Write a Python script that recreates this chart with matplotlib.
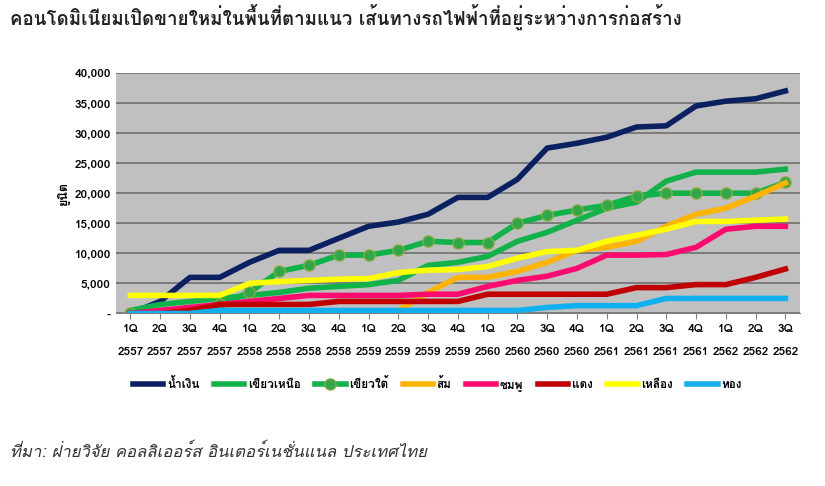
import matplotlib
matplotlib.use("Agg")
import matplotlib.pyplot as plt
from matplotlib import font_manager as fm

thai = [f.name for f in fm.fontManager.ttflist if "Thai" in f.name or "Loma" in f.name or "Garuda" in f.name]
fam = (thai[:1] if thai else []) + ["DejaVu Sans"]
plt.rcParams["font.family"] = fam

quarters = ["1Q","2Q","3Q","4Q","1Q","2Q","3Q","4Q","1Q","2Q","3Q","4Q","1Q","2Q","3Q","4Q","1Q","2Q","3Q","4Q","1Q","2Q","3Q"]
years = ["2557"]*4+["2558"]*4+["2559"]*4+["2560"]*4+["2561"]*4+["2562"]*3
labels = [q+"\n\n"+y for q, y in zip(quarters, years)]

navy = [0,2000,6000,6000,8500,10500,10500,12500,14500,15200,16500,19300,19300,22300,27500,28300,29300,31000,31200,34500,35300,35700,37000]
green_n = [500,1500,2000,2500,3000,3500,4200,4500,4800,5500,8000,8500,9500,12000,13500,15500,17500,18500,22000,23500,23500,23500,24000]
green_s = [0,0,500,1500,3500,7000,8000,9700,9700,10500,12000,11800,11800,15000,16300,17200,18000,19500,20000,20000,20000,20000,21800]
orange = [0,0,0,0,0,0,0,0,0,500,3500,6000,6000,7000,8500,10500,11000,12000,14500,16500,17500,19500,21700]
pink = [0,500,1000,1500,2000,2500,3000,3000,3000,3000,3200,3200,4500,5500,6200,7500,9700,9700,9800,11000,14000,14500,14500]
red = [0,0,500,1500,1500,1500,1500,2000,2000,2000,2000,2000,3200,3200,3200,3200,3200,4300,4300,4800,4800,6000,7400]
yellow = [3000,3000,3000,3000,5000,5300,5500,5700,5800,6800,7200,7300,7800,9200,10300,10500,12000,13000,14000,15300,15300,15500,15700]
cyan = [0,0,0,500,500,500,500,500,500,500,500,500,500,500,1000,1300,1300,1300,2500,2500,2500,2500,2500]

names = ["น้ำเงิน","เขียวเหนือ","เขียวใต้","ส้ม","ชมพู","แดง","เหลือง","ทอง"]
fig = plt.figure(figsize=(8.25,4.86), dpi=100)
ax = fig.add_axes([0.14, 0.355, 0.83, 0.495])
ax.set_facecolor("#c0c0c0")
x = list(range(len(labels)))
lw = 4
ax.plot(x, navy, color="#0b2060", lw=lw, label=names[0])
ax.plot(x, green_n, color="#12b24a", lw=lw, label=names[1])
ax.plot(x, green_s, color="#12b24a", lw=lw, marker="o", ms=8, mfc="#2ea84a", mec="#8aaa40", label=names[2])
ax.plot(x, orange, color="#ffb400", lw=lw, label=names[3])
ax.plot(x, pink, color="#ff0a6e", lw=lw, label=names[4])
ax.plot(x, red, color="#c00000", lw=lw, label=names[5])
ax.plot(x, yellow, color="#ffff00", lw=lw, label=names[6])
ax.plot(x, cyan, color="#10b0f0", lw=lw, label=names[7])
ax.set_xlim(-0.5, len(x)-0.5)
ax.set_ylim(0, 40000)
ax.set_yticks(range(0, 40001, 5000))
ax.set_yticklabels(["-"]+[f"{v:,}" for v in range(5000, 40001, 5000)], fontsize=8.5, fontweight="bold")
ax.set_xticks(x)
ax.set_xticklabels(labels, fontsize=8.5, fontweight="bold")
ax.grid(axis="y", color="#707070", lw=1.2)
ax.set_axisbelow(True)
for s in ["top","right","left"]:
    ax.spines[s].set_visible(False)
ax.spines["bottom"].set_color("#808080")
ax.tick_params(axis="y", length=0)
ax.tick_params(axis="x", length=4, color="#808080")
ax.set_ylabel("ยูนิต", fontsize=9, fontweight="bold")
fig.text(0.012, 0.95, "คอนโดมิเนียมเปิดขายใหม่ในพื้นที่ตามแนว เส้นทางรถไฟฟ้าที่อยู่ระหว่างการก่อสร้าง", fontsize=13.5, fontweight="bold", color="#222222")
ax.legend(loc="upper center", bbox_to_anchor=(0.47, -0.22), ncol=8, frameon=False, handlelength=2.6,
          columnspacing=1.2, handletextpad=0.3, prop={"weight":"bold", "size":8.5})
fig.text(0.012, 0.06, "ที่มา: ฝ่ายวิจัย คอลลิเออร์ส อินเตอร์เนชั่นแนล ประเทศไทย", fontsize=12, style="italic", color="#333333")
fig.savefig("out.png", dpi=100)
